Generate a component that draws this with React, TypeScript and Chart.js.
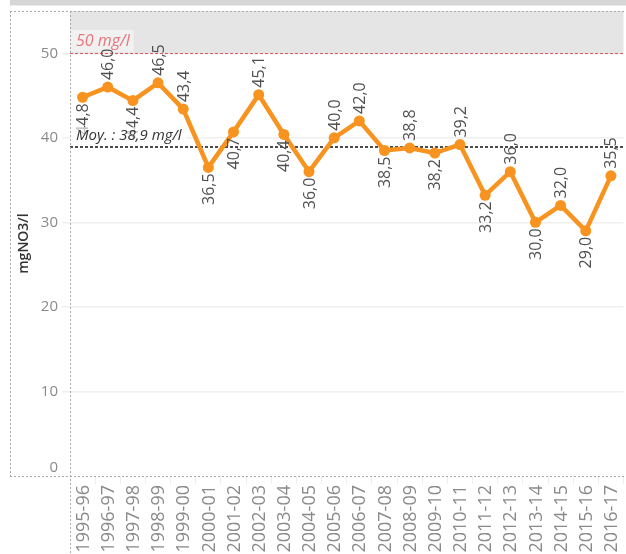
import React, { useEffect, useRef } from "react";
import { Chart, registerables } from "chart.js";

Chart.register(...registerables);

const categories = [
  "1995-96", "1996-97", "1997-98", "1998-99", "1999-00", "2000-01", "2001-02", "2002-03",
  "2003-04", "2004-05", "2005-06", "2006-07", "2007-08", "2008-09", "2009-10", "2010-11",
  "2011-12", "2012-13", "2013-14", "2014-15", "2015-16", "2016-17",
];
const nitrateValues = [
  44.8, 46.0, 44.4, 46.5, 43.4, 36.5, 40.7, 45.1, 40.4, 36.0, 40.0,
  42.0, 38.5, 38.8, 38.2, 39.2, 33.2, 36.0, 30.0, 32.0, 29.0, 35.5,
];
const averageValue = 38.9;
const limitValue = 50;
const yMax = 55;
const yTicksStep = 10;
const averageLabel = "Moy. : 38,9 mg/l";
const limitLabel = "50 mg/l";
const yTitle = "mgNO3/l";

const FONT = "'Open Sans', 'Noto Sans', sans-serif";
const ORANGE = "#f7931e";
const TICK_GRAY = "#8a8a8a";

const fmt = (v: number) => v.toFixed(1).replace(".", ",");

const decorPlugin = {
  id: "decor",
  beforeDraw(chart: any) {
    const { ctx, width, height } = chart;
    ctx.save();
    ctx.fillStyle = "#ffffff";
    ctx.fillRect(0, 0, width, height);
    ctx.fillStyle = "#d6d6d6";
    ctx.fillRect(10, 0, width - 10, 5.5);
    ctx.restore();
  },
  beforeDatasetsDraw(chart: any) {
    const { ctx, chartArea, scales, width, height } = chart;
    const y = scales.y;
    const x = scales.x;
    const { left, right, top, bottom } = chartArea;
    ctx.save();
    // band above limit
    const yLim = y.getPixelForValue(limitValue);
    ctx.fillStyle = "#e5e5e5";
    ctx.fillRect(left, top, right - left, yLim - top);
    // limit label box
    ctx.font = `italic 16px ${FONT}`;
    const lw = ctx.measureText(limitLabel).width;
    ctx.fillStyle = "#f1f1f1";
    ctx.fillRect(left, top + 19, lw + 10, 22);
    ctx.fillStyle = "#e8747c";
    ctx.textBaseline = "middle";
    ctx.textAlign = "left";
    ctx.fillText(limitLabel, left + 6, top + 30);
    // limit line
    ctx.strokeStyle = "#e05c63";
    ctx.lineWidth = 1;
    ctx.setLineDash([3, 2]);
    ctx.beginPath();
    ctx.moveTo(left, Math.round(yLim) + 0.5);
    ctx.lineTo(right, Math.round(yLim) + 0.5);
    ctx.stroke();
    // average line
    const yAvg = y.getPixelForValue(averageValue);
    ctx.strokeStyle = "#111111";
    ctx.lineWidth = 1.5;
    ctx.setLineDash([3, 2]);
    ctx.beginPath();
    ctx.moveTo(left, yAvg);
    ctx.lineTo(right, yAvg);
    ctx.stroke();
    // dotted panel borders
    ctx.strokeStyle = "#a8a8a8";
    ctx.lineWidth = 1;
    ctx.setLineDash([2, 2]);
    ctx.beginPath();
    ctx.moveTo(10, top + 0.5);
    ctx.lineTo(width, top + 0.5);
    ctx.moveTo(10, bottom + 0.5);
    ctx.lineTo(width, bottom + 0.5);
    ctx.moveTo(10.5, top);
    ctx.lineTo(10.5, bottom);
    ctx.moveTo(left + 0.5, top);
    ctx.lineTo(left + 0.5, height);
    ctx.stroke();
    ctx.setLineDash([]);
    // zero tick label, kept inside the panel
    ctx.font = `15px ${FONT}`;
    ctx.fillStyle = TICK_GRAY;
    ctx.textAlign = "right";
    ctx.textBaseline = "middle";
    ctx.fillText("0", left - 12, bottom - 8);
    // category labels, rotated
    ctx.font = `18px ${FONT}`;
    ctx.fillStyle = TICK_GRAY;
    categories.forEach((c, i) => {
      const px = x.getPixelForValue(i);
      ctx.save();
      ctx.translate(px + 1, bottom + 9);
      ctx.rotate(-Math.PI / 2);
      ctx.textAlign = "right";
      ctx.textBaseline = "middle";
      ctx.fillText(c, 0, 0);
      ctx.restore();
    });
    ctx.restore();
  },
  afterDatasetsDraw(chart: any) {
    const { ctx, chartArea, scales } = chart;
    const meta = chart.getDatasetMeta(0);
    ctx.save();
    ctx.font = `16px ${FONT}`;
    ctx.fillStyle = "#505050";
    ctx.textBaseline = "middle";
    meta.data.forEach((pt: any, i: number) => {
      const v = nitrateValues[i];
      const prev = i > 0 ? nitrateValues[i - 1] : null;
      const next = i < nitrateValues.length - 1 ? nitrateValues[i + 1] : null;
      const neigh = [prev, next].filter((n) => n !== null) as number[];
      const avgN = neigh.reduce((a, b) => a + b, 0) / neigh.length;
      const above = v >= avgN;
      ctx.save();
      if (above) {
        ctx.translate(pt.x + 1, pt.y - 7);
        ctx.rotate(-Math.PI / 2);
        ctx.textAlign = "left";
      } else {
        ctx.translate(pt.x + 1, pt.y + 6);
        ctx.rotate(-Math.PI / 2);
        ctx.textAlign = "right";
      }
      ctx.fillText(fmt(v), 0, 0);
      ctx.restore();
    });
    // average label
    const yAvg = scales.y.getPixelForValue(averageValue);
    ctx.font = `italic 15px ${FONT}`;
    const aw = ctx.measureText(averageLabel).width;
    ctx.fillStyle = "rgba(255,255,255,0.65)";
    ctx.fillRect(chartArea.left + 1, yAvg - 20, aw + 10, 18);
    ctx.fillStyle = "#333333";
    ctx.textAlign = "left";
    ctx.textBaseline = "middle";
    ctx.fillText(averageLabel, chartArea.left + 6, yAvg - 11);
    ctx.restore();
  },
};

export default function App() {
  const ref = useRef<HTMLCanvasElement | null>(null);
  useEffect(() => {
    if (!ref.current) return;
    const chart = new Chart(ref.current, {
      type: "line",
      data: {
        labels: categories,
        datasets: [
          {
            data: nitrateValues,
            borderColor: ORANGE,
            backgroundColor: ORANGE,
            borderWidth: 4.5,
            pointRadius: 5.5,
            pointBorderWidth: 0,
            pointBackgroundColor: ORANGE,
            tension: 0,
          },
        ],
      },
      options: {
        responsive: false,
        animation: false,
        devicePixelRatio: 1,
        layout: { padding: { top: 11, left: 0, right: 0, bottom: 0 } },
        plugins: { legend: { display: false }, tooltip: { enabled: false } },
        scales: {
          x: {
            offset: true,
            afterFit: (s: any) => {
              s.height = 78;
              s.paddingLeft = 0;
              s.paddingRight = 0;
            },
            grid: {
              display: true,
              offset: true,
              drawOnChartArea: false,
              drawTicks: true,
              tickLength: 8,
              color: "#eeeeee",
              lineWidth: 1,
            },
            border: { display: false },
            ticks: {
              autoSkip: false,
              minRotation: 90,
              maxRotation: 90,
              padding: 1,
              color: "rgba(0,0,0,0)",
              font: { family: FONT, size: 18 },
            },
          },
          y: {
            min: 0,
            max: yMax,
            afterFit: (s: any) => {
              s.width = 70;
              s.paddingTop = 0;
              s.paddingBottom = 0;
            },
            grid: {
              color: (c: any) => (c.tick && c.tick.value === 0 ? "rgba(0,0,0,0)" : "#efefef"),
              lineWidth: 1.5,
              tickLength: 8,
            },
            border: { display: false },
            ticks: {
              stepSize: yTicksStep,
              includeBounds: false,
              padding: 4,
              color: TICK_GRAY,
              font: { family: FONT, size: 15 },
              callback: (v: any) => (Number(v) === 0 ? "" : String(v)),
            },
            title: {
              display: true,
              text: yTitle,
              color: "#333333",
              font: { family: FONT, size: 14, weight: "600" },
              padding: { top: 16, bottom: 0 },
            },
          },
        },
      },
      plugins: [decorPlugin],
    });
    return () => chart.destroy();
  }, []);
  return (
    <div
      style={{
        position: "fixed",
        left: 0,
        top: 0,
        width: 626,
        height: 554,
        overflow: "hidden",
        background: "#fff",
      }}
    >
      <canvas ref={ref} width={629} height={554} style={{ display: "block" }} />
    </div>
  );
}
